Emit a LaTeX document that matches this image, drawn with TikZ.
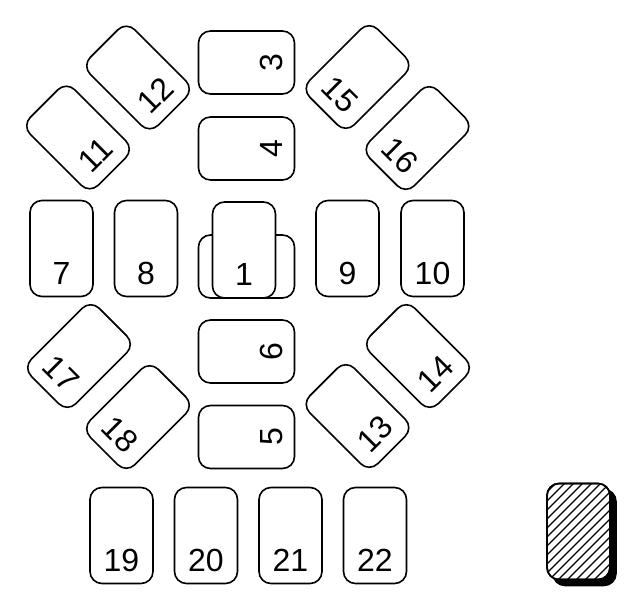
\documentclass[tikz,border=0pt]{standalone}
\usepackage{fontspec}
\setmainfont{Liberation Sans}
\usetikzlibrary{calc}
\begin{document}
\begin{tikzpicture}[x=1pt,y=-1pt,
  card/.style={draw, line width=1.6pt, fill=white, rounded corners=12pt,
    minimum width=63pt, minimum height=96pt, inner sep=0pt, outer sep=0pt},
  num/.style={font=\fontsize{32}{32}\selectfont, inner sep=0pt}]
\useasboundingbox (0,0) rectangle (629,605);
% helper: card with number
\newcommand{\mycard}[4]{% name, x, y, rotation / label
  \node[card, rotate=#4] (c#1) at (#2,#3) {};
  \node[num, rotate=#4] (t#1) at ($(c#1.center)!0.52!(c#1.south)$) {#1};
}
% top/bottom landscape cards
\mycard{3}{246.5}{62.5}{90}
\mycard{4}{246.5}{148.5}{90}
\mycard{6}{246.5}{351.5}{90}
\mycard{5}{246.5}{437}{90}
% diagonal cards
\mycard{12}{138}{77.5}{45}
\mycard{11}{78}{137.5}{45}
\mycard{15}{357.5}{77}{-45}
\mycard{16}{417.5}{138}{-45}
\mycard{17}{79}{356}{-45}
\mycard{18}{138}{417}{-45}
\mycard{13}{357.5}{416}{45}
\mycard{14}{418}{356}{45}
% middle row
\mycard{7}{61.5}{248.5}{0}
\mycard{8}{146}{248.5}{0}
\node[card, rotate=90] (c1b) at (246.5,266.5) {};
\mycard{1}{244}{250}{0}
\mycard{9}{347.5}{248.5}{0}
\mycard{10}{432.5}{248.5}{0}
% bottom row
\mycard{19}{121.5}{535.5}{0}
\mycard{20}{206}{535.5}{0}
\mycard{21}{290.5}{535.5}{0}
\mycard{22}{375}{535.5}{0}
% deck
\node[card, fill=black] (deckshadow) at (584.5,537.5) {};
\node[card] (deck) at (578.5,531.5) {};
\begin{scope}
  \clip[rounded corners=12pt] (deck.south west) rectangle (deck.north east);
  \foreach \i in {-120,-111,...,80}
    \draw[line width=1.3pt] (547+\i,585) -- ++(110,-110);
\end{scope}
\draw[line width=1.6pt, rounded corners=12pt] (deck.south west) rectangle (deck.north east);
\end{tikzpicture}
\end{document}
